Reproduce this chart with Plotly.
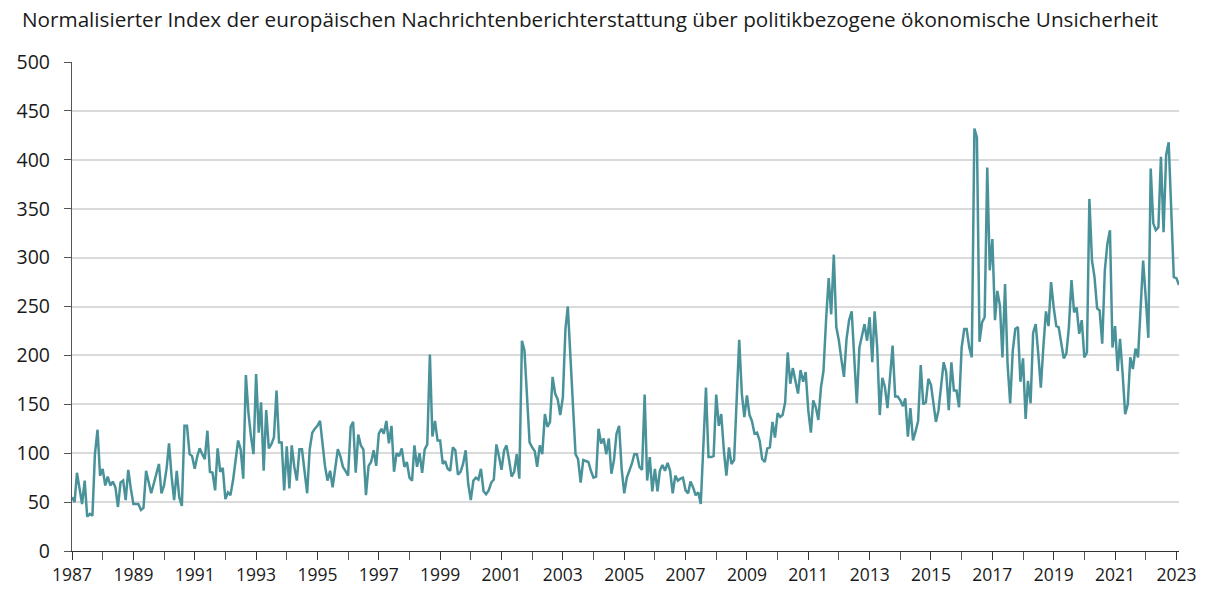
import pandas as pd
import plotly.graph_objects as go

# monthly index values, one list per year
v1987 = [55, 50, 80, 65, 48, 72, 35, 38, 36, 99, 124, 77]
v1988 = [84, 67, 76, 67, 71, 65, 45, 70, 72, 52, 83, 64]
v1989 = [48, 48, 48, 42, 44, 82, 69, 59, 69, 78, 89, 59]
v1990 = [67, 85, 110, 76, 52, 82, 55, 46, 128, 128, 99, 97]
v1991 = [84, 97, 105, 99, 94, 123, 81, 80, 62, 105, 81, 85]
v1992 = [53, 60, 57, 72, 91, 113, 104, 74, 180, 142, 117, 99]
v1993 = [181, 121, 152, 82, 144, 105, 109, 116, 164, 111, 111, 62]
v1994 = [107, 64, 108, 86, 72, 104, 104, 84, 59, 104, 121, 125]
v1995 = [128, 133, 113, 87, 72, 82, 65, 87, 104, 97, 86, 82]
v1996 = [77, 127, 132, 80, 119, 108, 104, 57, 87, 91, 103, 87]
v1997 = [120, 125, 120, 133, 110, 128, 81, 100, 97, 105, 86, 91]
v1998 = [75, 72, 108, 86, 100, 80, 104, 109, 201, 117, 133, 113]
v1999 = [113, 89, 92, 84, 82, 106, 103, 78, 81, 89, 103, 69]
v2000 = [52, 72, 75, 73, 84, 61, 58, 62, 70, 73, 109, 97]
v2001 = [83, 103, 108, 93, 76, 81, 99, 74, 215, 205, 157, 111]
v2002 = [106, 102, 86, 108, 99, 140, 127, 132, 178, 161, 155, 139]
v2003 = [157, 227, 250, 195, 140, 99, 94, 70, 93, 92, 91, 82]
v2004 = [75, 76, 125, 110, 115, 99, 115, 79, 93, 120, 128, 84]
v2005 = [59, 75, 81, 89, 99, 99, 86, 83, 160, 72, 96, 61]
v2006 = [84, 61, 82, 88, 82, 90, 82, 59, 77, 72, 74, 75]
v2007 = [62, 59, 71, 65, 57, 60, 48, 106, 167, 96, 96, 97]
v2008 = [160, 128, 140, 103, 77, 106, 89, 93, 157, 216, 161, 137]
v2009 = [159, 139, 133, 120, 121, 113, 94, 91, 105, 106, 132, 116]
v2010 = [141, 137, 139, 152, 203, 171, 187, 175, 161, 185, 173, 183]
v2011 = [144, 121, 154, 147, 134, 167, 184, 236, 279, 242, 303, 229]
v2012 = [215, 195, 178, 217, 236, 245, 198, 151, 208, 219, 232, 215]
v2013 = [239, 193, 245, 208, 139, 177, 168, 146, 178, 210, 158, 158]
v2014 = [154, 148, 156, 117, 146, 113, 122, 133, 190, 150, 152, 176]
v2015 = [170, 152, 132, 144, 166, 193, 183, 144, 193, 164, 164, 147]
v2016 = [208, 227, 227, 208, 198, 432, 423, 214, 234, 239, 392, 287]
v2017 = [319, 236, 266, 251, 198, 273, 191, 151, 205, 227, 229, 173]
v2018 = [197, 135, 174, 151, 223, 232, 202, 167, 210, 245, 230, 275]
v2019 = [249, 230, 229, 214, 197, 202, 229, 277, 244, 249, 222, 236]
v2020 = [198, 203, 360, 297, 280, 248, 246, 212, 287, 314, 328, 208]
v2021 = [230, 184, 217, 181, 140, 150, 198, 186, 207, 198, 253, 297]
v2022 = [259, 218, 391, 335, 328, 331, 403, 326, 405, 418, 348, 280]
v2023 = [279, 272]

values = (v1987 + v1988 + v1989 + v1990 + v1991 + v1992 + v1993 + v1994
          + v1995 + v1996 + v1997 + v1998 + v1999 + v2000 + v2001 + v2002
          + v2003 + v2004 + v2005 + v2006 + v2007 + v2008 + v2009 + v2010
          + v2011 + v2012 + v2013 + v2014 + v2015 + v2016 + v2017 + v2018
          + v2019 + v2020 + v2021 + v2022 + v2023)
dates = pd.date_range("1987-01-01", periods=len(values), freq="MS")

title = ("Normalisierter Index der europäischen Nachrichtenberichterstattung "
         "über politikbezogene ökonomische Unsicherheit")

fig = go.Figure()
fig.add_trace(go.Scatter(
    x=dates, y=values,
    mode="lines",
    line=dict(color="#4a929a", width=2.5),
    showlegend=False,
    hoverinfo="x+y",
))

fig.update_layout(
    width=1207, height=589,
    margin=dict(l=72, r=28, t=62, b=38),
    paper_bgcolor="white", plot_bgcolor="white",
    font=dict(family="Open Sans", size=18, color="#1a1a1a"),
    title=dict(text=title, x=22 / 1207, xanchor="left",
               y=1 - 20 / 589, yanchor="middle", yref="container",
               font=dict(size=20.7, color="#1a1a1a")),
)

fig.update_xaxes(
    type="date",
    range=["1987-01-01", "2023-02-01"],
    tick0="1987-01-01", dtick="M24", tickformat="%Y",
    ticks="outside", ticklen=8, tickcolor="#333333",
    showline=True, linecolor="#333333", linewidth=1.2,
    showgrid=False, zeroline=False, automargin=False,
    minor=dict(dtick="M12", ticks="outside", ticklen=8, tickcolor="#555555"),
    tickfont=dict(size=17.5),
)
fig.update_yaxes(
    range=[0, 500], dtick=50,
    ticks="outside", ticklen=7, tickcolor="#555555",
    showline=True, linecolor="#555555", linewidth=1.2,
    gridcolor="#dadada", gridwidth=1.5,
    zeroline=False, automargin=False,
    ticklabelstandoff=10,
    tickfont=dict(size=19.5),
)

# page body has a default 8px margin; drop it so the figure sits at 0,0
fig.write_html("out.html", config={"displayModeBar": False},
               post_script="document.body.style.margin='0';")
